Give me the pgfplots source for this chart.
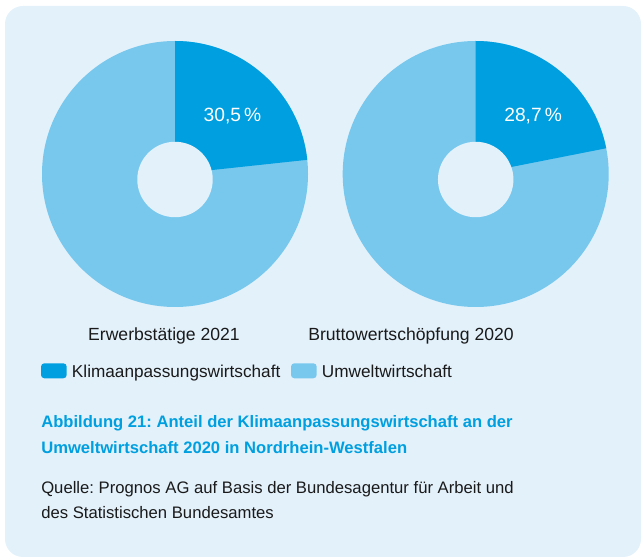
\documentclass[border=0pt]{standalone}
\usepackage{pgfplots}
\pgfplotsset{compat=1.18}
\usepackage{pgfplotstable}
\usepackage{fontspec}
\setmainfont{Liberation Sans}
\definecolor{bg}{RGB}{227,241,251}
\definecolor{dark}{RGB}{0,159,223}
\definecolor{light}{RGB}{120,200,238}
\definecolor{txt}{RGB}{26,26,26}

\pgfplotstableread{
share
23.3
76.7
}\tblA
\pgfplotstableread{
share
21.9
78.1
}\tblB

\newcommand\donut[4]{% end angle, label, center x, center y
  \begin{axis}[at={(#3,#4)}, anchor=center, x=0.75pt, y=0.75pt,
    xmin=-140, xmax=140, ymin=-140, ymax=140, hide axis, clip=false]
    \fill[light] (axis cs:0,0) -- (axis cs:0,133) arc[start angle=90, end angle=#1-360, radius=99.75pt] -- cycle;
    \fill[dark] (axis cs:0,0) -- (axis cs:0,133) arc[start angle=90, end angle=#1, radius=99.75pt] -- cycle;
    \fill[bg] (axis cs:0,-5.5) circle[radius=28.3pt];
    \node[text=white, font=\fontsize{14.4pt}{16pt}\selectfont, inner sep=0] at (axis cs:57.5,57.5) {#2};
  \end{axis}}

\begin{document}
\frenchspacing
\begin{tikzpicture}[x=0.75pt, y=0.75pt]
\useasboundingbox (0,0) rectangle (643,557);
\fill[bg, rounded corners=13.5pt] (5,0) rectangle (641,551);
\pgfplotstablegetelem{0}{share}\of\tblA
\pgfmathsetmacro\angA{90-3.6*\pgfplotsretval}
\pgfplotstablegetelem{0}{share}\of\tblB
\pgfmathsetmacro\angB{90-3.6*\pgfplotsretval}
\donut{\angA}{30,5\,\%}{175}{383}
\donut{\angB}{28,7\,\%}{475.7}{383}
% category labels
\begin{scope}[every node/.style={inner sep=0, text=txt, font=\fontsize{12.5pt}{15pt}\selectfont}]
\node[anchor=base, font=\fontsize{13.2pt}{15pt}\selectfont] at (164,{557-341}) {Erwerbstätige 2021};
\node[anchor=base, font=\fontsize{13.2pt}{15pt}\selectfont] at (411,{557-341}) {Bruttowertschöpfung 2020};
% legend
\fill[dark, rounded corners=2.5pt] (41,{557-378.3}) rectangle (66.7,{557-363.3});
\node[anchor=base west, font=\fontsize{12.9pt}{15pt}\selectfont] at (71.7,{557-377.7}) {Klimaanpassungswirtschaft};
\fill[light, rounded corners=2.5pt] (291,{557-378.3}) rectangle (316.7,{557-363.3});
\node[anchor=base west, font=\fontsize{12.9pt}{15pt}\selectfont] at (321.7,{557-377.7}) {Umweltwirtschaft};
% title
\node[anchor=base west, text=dark, font=\fontsize{12.45pt}{15pt}\selectfont\bfseries] at (41,{557-428}) {Abbildung 21: Anteil der Klimaanpassungswirtschaft an der};
\node[anchor=base west, text=dark, font=\fontsize{12.45pt}{15pt}\selectfont\bfseries] at (41,{557-454}) {Umweltwirtschaft 2020 in Nordrhein-Westfalen};
% source
\node[anchor=base west] at (41,{557-494}) {Quelle: Prognos AG auf Basis der Bundesagentur für Arbeit und};
\node[anchor=base west] at (41,{557-519}) {des Statistischen Bundesamtes};
\end{scope}
\end{tikzpicture}
\end{document}
